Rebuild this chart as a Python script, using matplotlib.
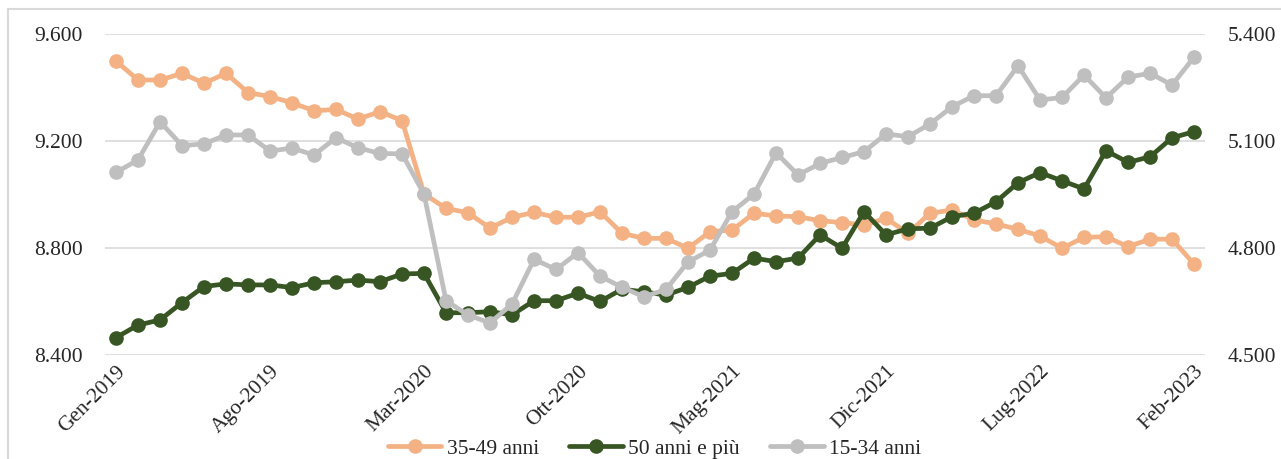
import numpy as np
import matplotlib
matplotlib.use("Agg")
import matplotlib.pyplot as plt
from matplotlib.ticker import FuncFormatter
from matplotlib.lines import Line2D

mesi = ["Gen", "Feb", "Mar", "Apr", "Mag", "Giu", "Lug", "Ago", "Set", "Ott", "Nov", "Dic"]
categorie = [f"{mesi[m % 12]}-{2019 + m // 12}" for m in range(50)]

anni_35_49 = [9499, 9428, 9428, 9453, 9416, 9453, 9381, 9366, 9343, 9313,
              9318, 9282, 9310, 9276, 9002, 8948, 8932, 8874, 8915, 8933,
              8915, 8915, 8935, 8855, 8836, 8836, 8799, 8861, 8867, 8930,
              8920, 8917, 8902, 8895, 8886, 8911, 8855, 8930, 8942, 8905,
              8890, 8870, 8845, 8799, 8840, 8842, 8805, 8833, 8833, 8740]

anni_50_piu = [8465, 8512, 8531, 8596, 8656, 8666, 8662, 8662, 8652, 8670,
               8674, 8680, 8674, 8703, 8705, 8558, 8558, 8562, 8550, 8603,
               8603, 8631, 8600, 8646, 8636, 8624, 8653, 8695, 8705, 8762,
               8749, 8762, 8849, 8799, 8936, 8849, 8872, 8874, 8917, 8930,
               8973, 9044, 9082, 9051, 9021, 9164, 9120, 9141, 9212, 9235]

anni_15_34 = [5012, 5047, 5154, 5087, 5092, 5117, 5117, 5072, 5080, 5061,
              5109, 5081, 5065, 5064, 4951, 4652, 4612, 4590, 4643, 4768,
              4740, 4787, 4721, 4690, 4663, 4684, 4761, 4794, 4902, 4951,
              5067, 5005, 5037, 5054, 5070, 5120, 5112, 5148, 5196, 5227,
              5227, 5311, 5215, 5222, 5285, 5221, 5279, 5290, 5257, 5335]

tick_sx = [8400, 8800, 9200, 9600]
tick_dx = [4500, 4800, 5100, 5400]

plt.rcParams['font.family'] = ['Liberation Serif', 'DejaVu Serif']
testo = '#262626'

fig = plt.figure(figsize=(12.81, 4.59), dpi=100)
ax = fig.add_axes([0.082, 0.2266, 0.8587, 0.6993])
ax2 = ax.twinx()

x = np.arange(len(categorie))
kw = dict(lw=3.4, marker='o', ms=9.5, solid_capstyle='round', solid_joinstyle='round')
l1, = ax.plot(x, anni_35_49, color='#F4B183', label='35-49 anni', **kw)
l2, = ax.plot(x, anni_50_piu, color='#375623', label='50 anni e più', **kw)
l3, = ax2.plot(x, anni_15_34, color='#BFBFBF', label='15-34 anni', **kw)

fmt = FuncFormatter(lambda v, p: f"{v:,.0f}".replace(',', '.'))
ax.set_ylim(8400, 9600)
ax.set_yticks(tick_sx)
ax.yaxis.set_major_formatter(fmt)
ax2.set_ylim(4500, 5400)
ax2.set_yticks(tick_dx)
ax2.yaxis.set_major_formatter(fmt)

ax.set_xlim(-0.5, len(categorie) - 0.5)
pos = list(range(0, len(categorie), 7))
ax.set_xticks(pos)
ax.set_xticklabels([categorie[i] for i in pos], rotation=45, ha='right',
                   rotation_mode='anchor')

ax.grid(axis='y', color='#D9D9D9', lw=1.2)
ax.set_axisbelow(True)
for a in (ax, ax2):
    for s in a.spines.values():
        s.set_visible(False)
    a.tick_params(length=0, labelsize=15.5, labelcolor=testo)
ax.tick_params(axis='y', pad=16)
ax2.tick_params(axis='y', pad=16)
ax.tick_params(axis='x', pad=5)

fig.legend(handles=[l1, l2, l3], loc='center', bbox_to_anchor=(0.511, 0.022),
           ncol=3, frameon=False, fontsize=15.5, handlelength=2.5,
           handletextpad=0.25, columnspacing=1.4, labelcolor=testo)

# cornice del grafico
fig.add_artist(Line2D([0.0062, 1.0], [0.980, 0.980], color='#D9D9D9', lw=1.5))
fig.add_artist(Line2D([0.0062, 0.0062], [0.0, 0.980], color='#D9D9D9', lw=1.5))

plt.savefig('out.png', dpi=100)
